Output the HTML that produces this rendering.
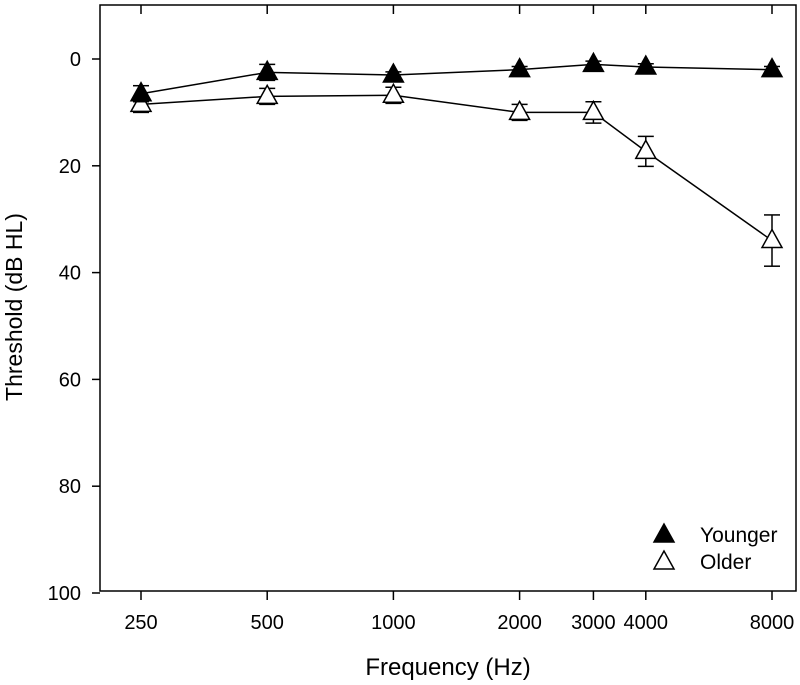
<!DOCTYPE html>
<html><head><meta charset="utf-8"><style>body{margin:0;background:#fff}svg{display:block;font-family:"Liberation Sans",Arial,sans-serif}</style></head>
<body>
<svg id="chart" width="800" height="685" xmlns="http://www.w3.org/2000/svg"></svg>
<script>
const freqs = [250, 500, 1000, 2000, 3000, 4000, 8000];
const xTickLabels = ["250", "500", "1000", "2000", "3000", "4000", "8000"];
const yTicks = [0, 20, 40, 60, 80, 100];
const youngerVals = [6.5, 2.5, 3, 2, 1, 1.5, 2];
const youngerErr = [1.5, 1.5, 0.6, 0.6, 0.6, 0.6, 0.6];
const olderVals = [8.5, 7, 6.8, 10, 10, 17.3, 34];
const olderErr = [1.5, 1.5, 1.5, 1.5, 2, 2.8, 4.8];

const NS = "http://www.w3.org/2000/svg";
const svg = document.getElementById('chart');
const L = 100, R = 796, T = 5, B = 591;
const y = v => 59 + v * 5.34;
const x = f => 141 + Math.log2(f / 250) * 126.2;
function mk(tag, attrs, parent) {
  const e = document.createElementNS(NS, tag);
  for (const k in attrs) e.setAttribute(k, attrs[k]);
  (parent || svg).appendChild(e);
  return e;
}
const frame = mk('rect', {x: L, y: T, width: R - L, height: B - T, fill: 'none', stroke: '#000', 'stroke-width': 1.5});



const yAxis = mk('g', {});


yTicks.forEach(v => {
  mk('line', {x1: L - 8, x2: L, y1: y(v), y2: y(v), stroke: '#000', 'stroke-width': 1.5}, yAxis);
  const t = mk('text', {x: L - 19, y: y(v) + 7, 'text-anchor': 'end', 'font-size': 20}, yAxis);
  t.textContent = v;
  
  
});
const xAxis = mk('g', {});


freqs.forEach((f, i) => {
  mk('line', {x1: x(f), x2: x(f), y1: B, y2: B + 9, stroke: '#000', 'stroke-width': 1.5}, xAxis);
  mk('line', {x1: x(f), x2: x(f), y1: T, y2: T + 9, stroke: '#000', 'stroke-width': 1.5}, xAxis);
  const t = mk('text', {x: x(f), y: 629, 'text-anchor': 'middle', 'font-size': 20}, xAxis);
  t.textContent = xTickLabels[i];
  
  
});
const xt = mk('text', {x: 448, y: 675, 'text-anchor': 'middle', 'font-size': 24});
xt.textContent = 'Frequency (Hz)';


const yt = mk('text', {x: 0, y: 0, 'text-anchor': 'middle', 'font-size': 23, transform: 'translate(22,307) rotate(-90)'});
yt.textContent = 'Threshold (dB HL)';



function tri(cx, cy, fill, parent) {
  return mk('polygon', {points: `${cx},${cy - 11} ${cx - 10},${cy + 7} ${cx + 10},${cy + 7}`, fill: fill, stroke: '#000', 'stroke-width': 1.5}, parent);
}
function series(vals, errs, fill, name) {
  const g = mk('g', {});
  
  
  const pts = freqs.map((f, i) => `${x(f)},${y(vals[i])}`).join(' ');
  mk('polyline', {points: pts, fill: 'none', stroke: '#000', 'stroke-width': 1.5}, g);
  freqs.forEach((f, i) => {
    const cx = x(f), y1 = y(vals[i] - errs[i]), y2 = y(vals[i] + errs[i]);
    mk('line', {x1: cx, x2: cx, y1: y1, y2: y2, stroke: '#000', 'stroke-width': 1.5}, g);
    mk('line', {x1: cx - 8, x2: cx + 8, y1: y1, y2: y1, stroke: '#000', 'stroke-width': 1.5}, g);
    mk('line', {x1: cx - 8, x2: cx + 8, y1: y2, y2: y2, stroke: '#000', 'stroke-width': 1.5}, g);
  });
  freqs.forEach((f, i) => {
    const p = tri(x(f), y(vals[i]), fill, g);
    
    
  });
}
series(olderVals, olderErr, '#fff', 'series-older');
series(youngerVals, youngerErr, '#000', 'series-younger');

const lg = mk('g', {});


tri(664, 535, '#000', lg);
tri(664, 562, '#fff', lg);
const l1 = mk('text', {x: 700, y: 542, 'font-size': 21}, lg);
l1.textContent = 'Younger';


const l2 = mk('text', {x: 700, y: 569, 'font-size': 21}, lg);
l2.textContent = 'Older';


</script>
</body></html>
